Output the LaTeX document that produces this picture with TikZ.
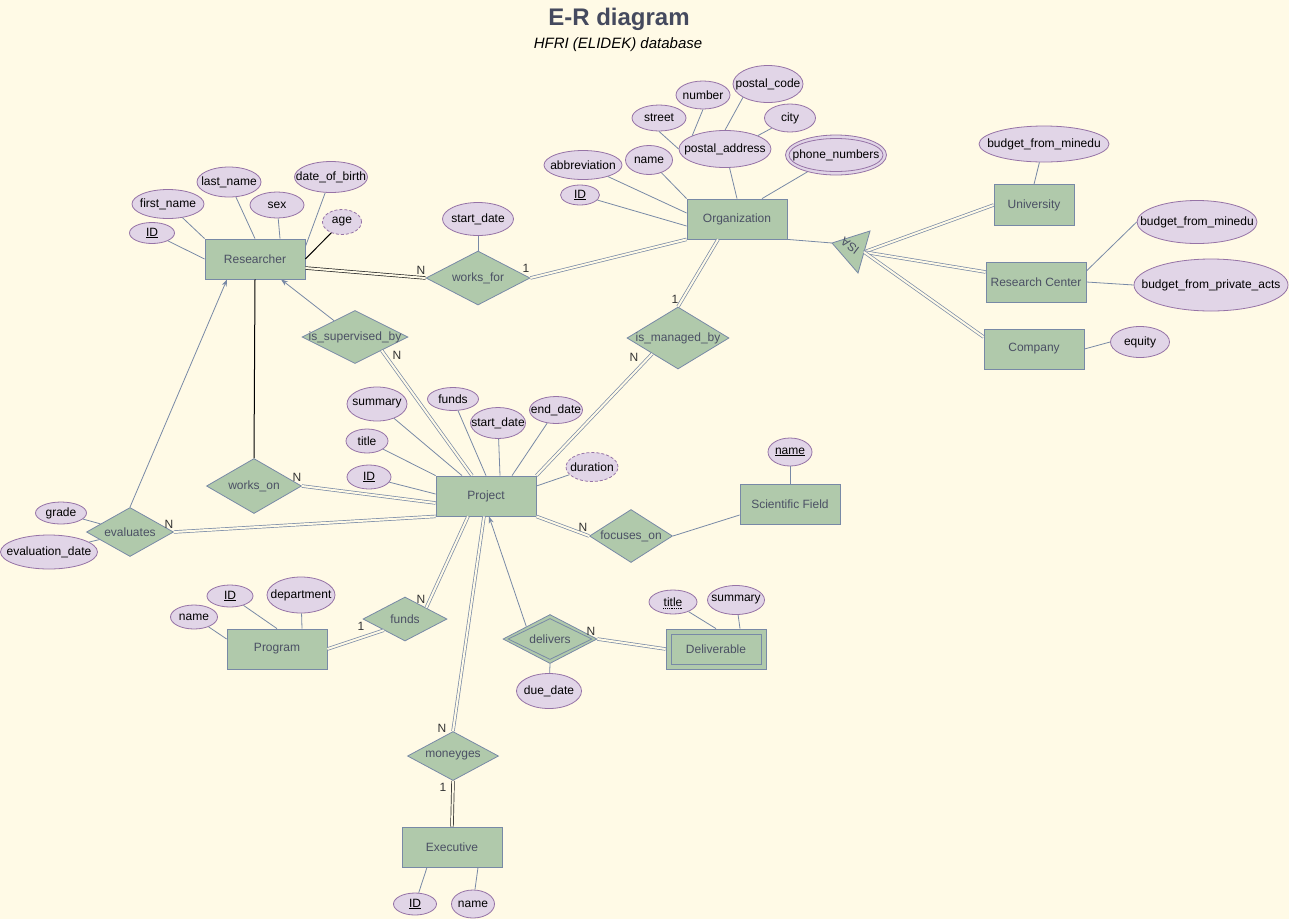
\documentclass[tikz,border=0pt]{standalone}
\usepackage{fontspec}
\setmainfont{Liberation Sans}
\usetikzlibrary{shapes.geometric,arrows.meta}
\definecolor{bgc}{HTML}{FFFAE6}
\definecolor{entfill}{HTML}{B0C9AB}
\definecolor{lnc}{HTML}{7889A6}
\definecolor{attrfill}{HTML}{E1D5E7}
\definecolor{attrdraw}{HTML}{9673A6}
\definecolor{enttext}{HTML}{4B5064}
\definecolor{titlec}{HTML}{454A5E}
\definecolor{cardc}{HTML}{333333}
\newcommand\ERattr[7][]{\node[attr,#1,minimum width=#5,minimum height=#6,label={[atxt,name=#2-t]center:{#7}}] (#2) at (#3,#4) {};}
\newcommand\ERrel[7][]{\node[rel,#1,minimum width=#5,minimum height=#6,label={[etxt,name=#2-t]center:{#7}}] (#2) at (#3,#4) {};}
\newcommand\ERent[6]{\node[entity,minimum width=#4,minimum height=#5] (#1) at (#2,#3) {#6};}
\begin{document}
\begin{tikzpicture}[x=1pt,y=-1pt,
  entity/.style={rectangle, draw=lnc, fill=entfill, line width=0.8pt, inner sep=0pt, text=enttext, font=\fontsize{12}{14}\selectfont},
  rel/.style={diamond, draw=lnc, fill=entfill, line width=0.8pt, inner sep=0pt},
  attr/.style={ellipse, draw=attrdraw, fill=attrfill, line width=0.8pt, inner sep=0pt},
  atxt/.style={inner sep=0pt, text=black, font=\fontsize{12}{14}\selectfont},
  etxt/.style={inner sep=0pt, text=enttext, font=\fontsize{12}{14}\selectfont},
  card/.style={inner sep=0pt, text=cardc, font=\fontsize{12}{14}\selectfont},
  link/.style={draw=lnc, line width=0.8pt},
  blink/.style={draw=black, line width=1pt},
  dbl/.style={draw=lnc, line width=0.7pt, double=bgc, double distance=2pt},
  bdbl/.style={draw=black!85, line width=0.7pt, double=bgc, double distance=2pt},
  arr/.style={link, -{Stealth[length=7pt,width=5pt]}},
  dashattr/.style={dash pattern=on 3pt off 2pt}]
\path[fill=bgc] (0,0) rectangle (1289,919);
\useasboundingbox (0,0) rectangle (1289,919);

\node[font=\fontsize{24}{28}\selectfont\bfseries, text=titlec] (title) at (619,19) {E-R diagram};
\node[font=\fontsize{15}{18}\selectfont\itshape] (subtitle) at (618,45) {HFRI (ELIDEK) database};

% entities
\ERent{Researcher}{255}{259}{100}{40}{Researcher}
\ERent{Organization}{737}{219}{100}{40}{Organization}
\ERent{University}{1034}{205}{80}{41}{University}
\ERent{RC}{1036}{282}{100}{40}{Research Center}
\ERent{Company}{1034}{349}{100}{40}{Company}
\ERent{Project}{486}{496}{100}{40}{Project}
\ERent{SciField}{790}{504}{100}{40}{Scientific Field}
\ERent{Program}{277}{649}{100}{40}{Program}
\ERent{Deliverable}{716}{649}{100}{40}{Deliverable}
\node[rectangle, draw=lnc, line width=0.8pt, inner sep=0pt, minimum width=90, minimum height=30] (DeliverableIn) at (716,649) {};
\ERent{Executive}{452}{847}{100}{40}{Executive}

% relationships
\ERrel{worksfor}{478}{278}{104}{54}{works\_for}
\ERrel{sup}{355}{337}{106}{53}{is\_supervised\_by}
\ERrel{mgd}{678}{338}{102}{62}{is\_managed\_by}
\ERrel{workson}{254}{486}{95}{55}{works\_on}
\ERrel{evaluates}{130}{532}{87}{49}{evaluates}
\ERrel{focuses}{631}{536}{83}{53}{focuses\_on}
\ERrel{fundsrel}{405}{619}{84}{44}{funds}
\ERrel{delivers}{550}{639}{94}{49}{delivers}
\node[diamond, draw=lnc, line width=0.8pt, inner sep=0pt, minimum width=84, minimum height=41] (deliversIn) at (550,639) {};
\ERrel{moneyges}{453}{756}{91}{49}{moneyges}

% attributes
\ERattr{rID}{152}{233}{45}{21}{\underline{ID}}
\ERattr{rfirst}{168}{204}{72}{29}{first\_name}
\ERattr{rlast}{229}{182}{64}{30}{last\_name}
\ERattr{rsex}{277}{205}{54}{26}{sex}
\ERattr{rdob}{331}{177}{73}{31}{date\_of\_birth}
\ERattr[dashattr]{rage}{342}{222}{39}{25}{age}
\ERattr{wfstart}{478}{219}{71}{33}{start\_date}
\ERattr{oID}{580}{195}{39}{20}{\underline{ID}}
\ERattr{oabbr}{583}{165}{78}{29}{abbreviation}
\ERattr{oname}{649}{160}{47}{29}{name}
\ERattr{paddr}{725}{149}{92}{37}{postal\_address}
\ERattr{street}{659}{118}{54}{26}{street}
\ERattr{number}{703}{95}{54}{28}{number}
\ERattr{pcode}{768}{84}{70}{37}{postal\_code}
\ERattr{city}{790}{118}{51}{28}{city}
\ERattr{phone}{836}{155}{101}{40}{phone\_numbers}
\node[ellipse, draw=attrdraw, line width=0.8pt, inner sep=0pt, minimum width=94, minimum height=33] (phoneIn) at (836,155) {};
\ERattr{ubud}{1044}{144}{130}{36}{budget\_from\_minedu}
\ERattr{rbud}{1197}{222}{120}{43}{budget\_from\_minedu}
\ERattr{rpriv}{1211}{285}{154}{52}{budget\_from\_private\_acts}
\ERattr{equity}{1140}{342}{59}{31}{equity}
\ERattr{psumm}{377}{404}{60}{34}{summary}
\ERattr{pfunds}{453}{399}{51}{23}{funds}
\ERattr{pstart}{498}{423}{55}{31}{start\_date}
\ERattr{pend}{556}{410}{53}{27}{end\_date}
\ERattr{ptitle}{367}{441}{42}{24}{title}
\ERattr{pID}{369}{477}{44}{24}{\underline{ID}}
\ERattr[dashattr]{pdur}{592}{467}{52}{29}{duration}
\ERattr{sfname}{790}{452}{44}{28}{\underline{name}}
\ERattr{grade}{61}{513}{51}{22}{grade}
\ERattr{evaldate}{49}{552}{97}{34}{evaluation\_date}
\ERattr{pgID}{230}{596}{46}{22}{\underline{ID}}
\ERattr{pgname}{194}{617}{47}{24}{name}
\ERattr{pgdept}{301}{595}{68}{36}{department}
\ERattr{dtitle}{673}{602}{48}{24}{title}
\draw[densely dotted, line width=0.8pt] ([yshift=-2.5pt]dtitle-t.base west) -- ([yshift=-2.5pt]dtitle-t.base east);
\ERattr{dsumm}{736}{600}{57}{29}{summary}
\ERattr{duedate}{549}{691}{65}{35}{due\_date}
\ERattr{xID}{415}{904}{43}{22}{\underline{ID}}
\ERattr{xname}{473}{904}{43}{28}{name}

% ISA triangle
\coordinate (isaL) at (832,243);
\coordinate (isaT) at (870,231);
\coordinate (isaB) at (858,273);
\coordinate (isaR) at (864,252);
\filldraw[fill=entfill, draw=lnc, line width=0.8pt] (isaL) -- (isaT) -- (isaB) -- cycle;
\node[etxt, rotate=143] (ISA) at (850,246) {ISA};

% attribute links
\draw[link] (rID) -- (Researcher.west);
\draw[link] (rfirst) -- (Researcher.north west);
\draw[link] (rlast) -- (Researcher.north);
\draw[link] (rsex) -- ([xshift=25pt]Researcher.north);
\draw[link] (rdob) -- ([yshift=-8pt]Researcher.north east);
\draw[blink] (rage) -- (Researcher.east);
\draw[link] (wfstart) -- (worksfor.north);
\draw[link] (oID) -- ([yshift=-7pt]Organization.west);
\draw[link] (oabbr) -- ([yshift=6pt]Organization.west);
\draw[link] (oname) -- (Organization.north west);
\draw[link] (paddr) -- (Organization.north);
\draw[link] (phone) -- ([xshift=25pt]Organization.north);
\draw[link] (street.south) -- (paddr.west);
\draw[link] (number.south) -- (paddr.north west);
\draw[link] (pcode.south west) -- (paddr.north);
\draw[link] (city.south west) -- (paddr.north east);
\draw[link] (ubud) -- (University.north);
\draw[link] (rbud.west) -- ([yshift=11pt]RC.east);
\draw[link] (rpriv.west) -- (RC.east);
\draw[link] (equity.west) -- (Company.east);
\draw[link] (psumm) -- ([xshift=-24pt]Project.north);
\draw[link] (pfunds) -- (Project.north);
\draw[link] (pstart) -- ([xshift=14pt]Project.north);
\draw[link] (pend) -- ([xshift=26pt]Project.north);
\draw[link] (ptitle) -- (Project.north west);
\draw[link] (pID) -- ([yshift=2pt]Project.west);
\draw[link] (pdur) -- ([yshift=10pt]Project.east);
\draw[link] (sfname) -- (SciField.north);
\draw[link] (grade) -- (evaluates);
\draw[link] (evaldate) -- (evaluates);
\draw[link] (pgID) -- (Program.north);
\draw[link] (pgname) -- ([yshift=10pt]Program.west);
\draw[link] (pgdept) -- ([xshift=25pt]Program.north);
\draw[link] (dtitle) -- (Deliverable.north);
\draw[link] (dsumm) -- ([xshift=24pt]Deliverable.north);
\draw[link] (duedate) -- (delivers.south);
\draw[link] (xID) -- ([xshift=-25pt]Executive.south);
\draw[link] (xname) -- ([xshift=26pt]Executive.south);

% relationship links
\draw[bdbl] ([yshift=-9pt]Researcher.east) -- (worksfor.west);
\draw[dbl] (worksfor.east) -- (Organization.south west);
\draw[blink] (Researcher.south) -- (workson.north);
\draw[dbl] (workson.east) -- ([yshift=-7pt]Project.west);
\draw[arr] (sup) -- ([xshift=26pt]Researcher.south);
\draw[dbl] (sup.south east) -- ([xshift=-14pt]Project.north);
\draw[dbl] ([xshift=-19pt]Organization.south) -- (mgd.north);
\draw[dbl] (mgd.south west) -- (Project.north east);
\draw[arr] (evaluates.north) -- ([xshift=-28pt]Researcher.south);
\draw[dbl] (evaluates.east) -- (Project.south west);
\draw[dbl] (Project.south east) -- (focuses.west);
\draw[link] (focuses.east) -- ([yshift=-11pt]SciField.west);
\draw[dbl] (fundsrel.north east) -- ([xshift=-18pt]Project.south);
\draw[dbl] (Program.east) -- (fundsrel.south west);
\draw[arr] (delivers.north west) -- ([xshift=3pt]Project.south);
\draw[dbl] (moneyges.north) -- ([xshift=-2pt]Project.south);
\draw[dbl] (delivers.east) -- (Deliverable.west);
\draw[bdbl] (moneyges.south) -- (Executive.north);
\draw[link] (Organization.south east) -- (isaL);
\draw[dbl] (isaR) -- (University.west);
\draw[dbl] (isaR) -- ([yshift=10pt]RC.west);
\draw[dbl] (isaR) -- ([yshift=12pt]Company.west);

% cardinalities
\node[card] (c1) at (421,270) {N};
\node[card] (c2) at (526,268) {1};
\node[card] (c3) at (397,355) {N};
\node[card] (c4) at (675,299) {1};
\node[card] (c5) at (634,357) {N};
\node[card] (c6) at (297,477) {N};
\node[card] (c7) at (169,524) {N};
\node[card] (c8) at (583,527) {N};
\node[card] (c9) at (421,599) {N};
\node[card] (c10) at (361,626) {1};
\node[card] (c11) at (591,631) {N};
\node[card] (c12) at (442,728) {N};
\node[card] (c13) at (443,787) {1};
\end{tikzpicture}
\end{document}
